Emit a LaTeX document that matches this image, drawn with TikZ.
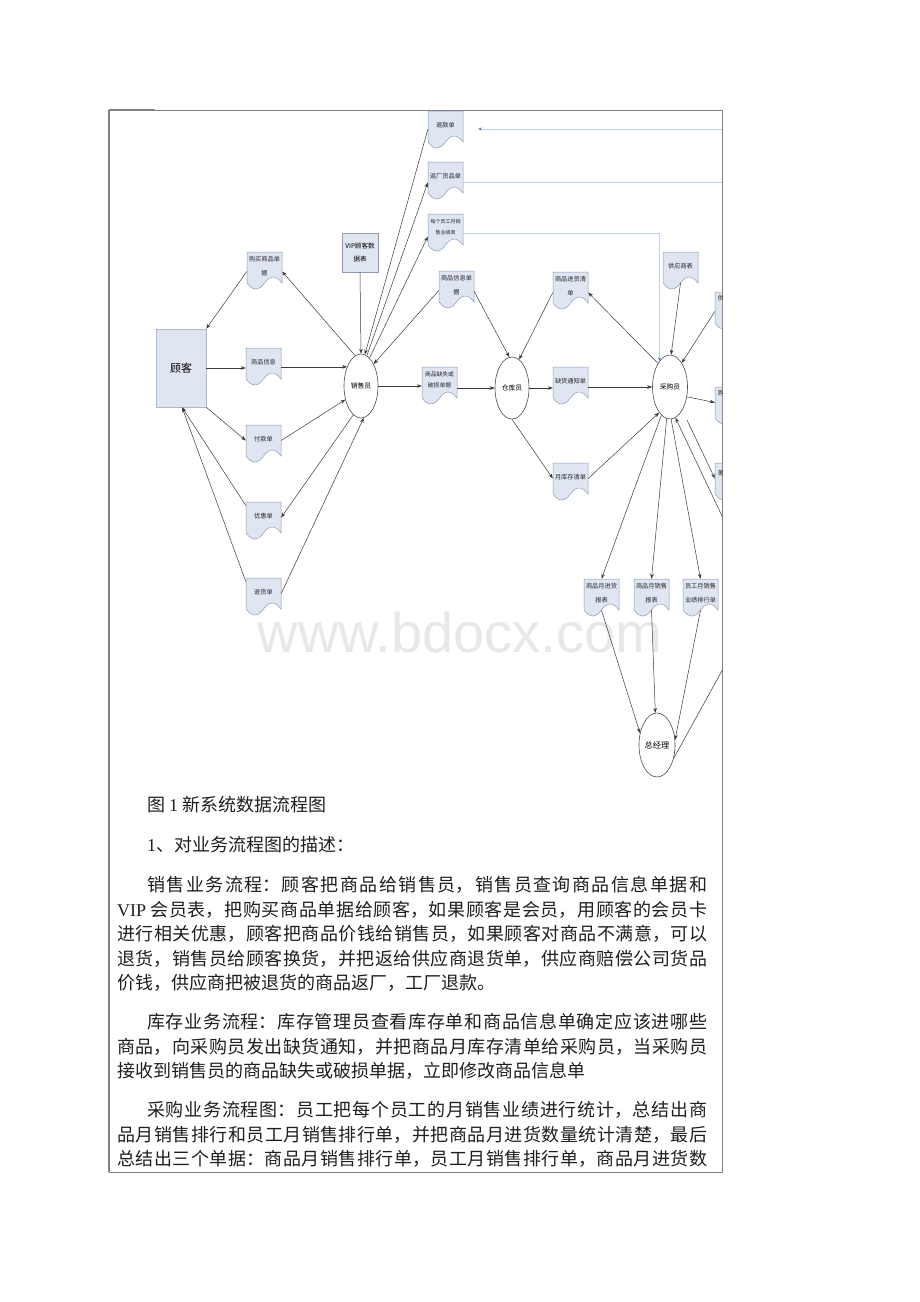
\documentclass[tikz,border=0pt]{standalone}
\usepackage{fontspec}
\setmainfont{Liberation Serif}
\newfontfamily\cjk{Noto Sans CJK SC}
\newfontfamily\wmfont{Liberation Sans}
\usetikzlibrary{shapes.geometric,arrows.meta,calc}
\XeTeXlinebreaklocale "zh"
\XeTeXlinebreakskip=0pt plus 3pt
\definecolor{docfill}{HTML}{DFE6F2}
\definecolor{docline}{HTML}{8C9BB0}
\definecolor{ln}{HTML}{3A3A3A}
\definecolor{bl}{HTML}{C3D1E8}
\definecolor{bla}{HTML}{4A78C8}
\definecolor{framec}{HTML}{808080}
\tikzset{
 docst/.style={fill=docfill, draw=docline, line width=0.5pt},
 dbox/.style={rectangle, minimum width=35pt, minimum height=31pt, inner sep=0pt},
 dtxt/.style={font=\cjk\fontsize{6.2}{13.5}\selectfont, align=center, inner sep=0pt, text=black!85},
 ell/.style={ellipse, draw=black!70, fill=white, line width=0.6pt, inner sep=0pt, font=\cjk\fontsize{6.8}{8}\selectfont},
 arr/.style={draw=ln, line width=0.5pt, -{Stealth[length=5pt,width=3.6pt]}},
 con/.style={draw=ln, line width=0.5pt},
 bline/.style={draw=bl, line width=0.6pt},
 barr/.style={draw=bl, line width=0.6pt, -{Stealth[length=3.5pt,width=3pt,color=bla]}},
 body/.style={anchor=base west, inner sep=0pt, font=\cjk\fontsize{18}{22}\selectfont, text=black!88},
}
\newcommand\docshape[6]{% name, x, y, text, text y, extra style
 \begin{scope}[shift={(#2,#3)}]
  \path[docst] (0,0) -- (35,0) -- (35,31) .. controls (29.17,23) and (23.33,23) .. (17.5,31) .. controls (11.67,39) and (5.83,39) .. (0,31) -- cycle;
  \node[dbox] (#1) at (17.5,15.5) {};
  \node[dtxt,#6] (#1-t) at (17.5,#5) {#4};
 \end{scope}}
\newcommand\fullline[5]{\node[body] (#1) at (#2,#3) {\parbox[b]{#4pt}{\parfillskip=0pt\relax #5}};}
\begin{document}
\begin{tikzpicture}[x=1pt,y=-1pt]
\useasboundingbox (0,0) rectangle (920,1302);
\fill[white] (0,0) rectangle (920,1302);

% watermark
\node[font=\wmfont\fontsize{56}{60}\selectfont, text=black!9, anchor=base, inner sep=0pt] (wm) at (460,652) {www.bdocx.com};

% frame
\draw[framec, line width=1pt] (109,1172) -- (109,110) -- (722,110) -- (722,1172) -- cycle;
\draw[framec, line width=1.6pt] (109,110) -- (155,110);
\draw[framec, line width=1.6pt] (109,110) -- (109,1172);

% documents
\docshape{tk}{428}{111}{退款单}{14.5}{}
\docshape{fc}{428}{162}{返厂货品单}{14.5}{}
\docshape{mg}{428}{214}{每个员工月销\\售业绩单}{13}{font=\cjk\fontsize{5}{11.5}\selectfont}
\docshape{gm}{247}{252}{购买商品单\\据}{14}{}
\docshape{xx}{439}{271}{商品信息单\\据}{14}{}
\docshape{jh}{553}{272}{商品进货清\\单}{14}{}
\docshape{gy}{663}{252}{供应商表}{14.5}{}
\docshape{sp}{246}{348}{商品信息}{14.5}{}
\docshape{fk}{246}{425}{付款单}{14.5}{}
\docshape{yh}{246}{502}{优惠单}{14.5}{}
\docshape{th}{246}{578}{退货单}{14.5}{}
\docshape{qs}{422}{367}{商品缺失或\\破损单据}{13}{font=\cjk\fontsize{5.8}{11.5}\selectfont}
\docshape{qh}{553}{367}{缺货通知单}{14.5}{}
\docshape{yk}{553}{463}{月库存清单}{14.5}{}
\docshape{b1}{584}{579}{商品月进货\\报表}{14}{}
\docshape{b2}{634}{579}{商品月销售\\报表}{14}{}
\docshape{b3}{683}{579}{员工月销售\\业绩排行单}{14}{}

% partial documents at the right edge
\begin{scope}
 \clip (100,100) rectangle (722,800);
 \docshape{r1}{715}{292}{}{14}{}
 \docshape{r2}{715}{387}{}{14}{}
 \docshape{r3}{715}{463}{}{14}{}
 \node[dtxt] (r1c) at (721,298) {供};
 \node[dtxt] (r2c) at (721,393) {购};
 \node[dtxt] (r3c) at (721,473) {差};
 \coordinate (offA) at (740,554);
 \coordinate (offB) at (740,638);
\end{scope}
\coordinate (offC) at (722,129);
\coordinate (offD) at (722,182);

% rectangles
\node[rectangle, fill=docfill, draw=docline, line width=0.5pt, minimum width=36pt, minimum height=39pt, inner sep=0pt, align=center, font=\cjk\fontsize{6.5}{13}\selectfont] (vip) at (360,252.5) {VIP顾客数\\据表};
\node[rectangle, fill=docfill, draw=docline!70, line width=0.5pt, minimum width=50pt, minimum height=78pt, inner sep=0pt, font=\cjk\fontsize{11}{12}\selectfont] (gk) at (181,368) {顾客};

% ellipses
\node[ell, minimum width=34pt, minimum height=64pt] (xs) at (361,386) {销售员};
\node[ell, minimum width=34pt, minimum height=62pt] (ck) at (512,388) {仓库员};
\node[ell, minimum width=35pt, minimum height=64pt] (cg) at (670,387) {采购员};
\node[ell, minimum width=36pt, minimum height=64pt, font=\cjk\fontsize{8.2}{9}\selectfont] (zj) at (657,745) {总经理};

% connectors
\draw[arr] ([yshift=-4pt]gm.west) -- (gk.north east);
\draw[arr] (xs.101) -- ([yshift=-4pt]gm.east);
\draw[arr] (gk.east) -- (gk.east -| sp.west);
\draw[arr] (sp.east |- xs.126) -- (xs.126);
\draw[arr] (gk.south east) -- (fk.west);
\draw[arr] (fk.east) -- (xs.221);
\draw[arr] (xs.255) -- (yh.east);
\draw[arr] ([yshift=12pt]yh.west) -- ([xshift=1pt]gk.south);
\draw[arr] ([yshift=12pt]th.west) -- ([xshift=1pt]gk.south);
\draw[arr] (th.east) -- (xs.275);
\draw[arr] (vip.south) -- (xs.north);
\draw[arr] ([yshift=-3pt]tk.west) -- (xs.83);
\draw[arr] (xs.79) -- ([yshift=-5pt]fc.west);
\draw[arr] (xs.73) -- ([yshift=-7pt]mg.west);
\draw[arr] ([yshift=-4pt]xx.west) -- (xs.60);
\draw[arr] (xs.east) -- (xs.east -| qs.west);
\draw[arr] (ck.west -| qs.east) -- (ck.west);
\draw[arr] ([yshift=-5pt]xx.east) -- (ck.95);
\draw[arr] ([yshift=-5pt]jh.west) -- (ck.76);
\draw[arr] (ck.east) -- (ck.east -| qh.west);
\draw[arr] (cg.west -| qh.east) -- (cg.west);
\draw[arr] (ck.south) -- (yk.west);
\draw[arr] (yk.east) -- (cg.247);
\draw[arr] (cg.117) -- ([yshift=-5pt]jh.east);
\draw[arr] (gy.south) -- (cg.88);
\draw[arr] (cg.253) -- (b1.north);
\draw[arr] (cg.264) -- (b2.north);
\draw[arr] (cg.272) -- (b3.north);
\draw[arr] (b1.south) -- (zj.145);
\draw[arr] (b2.south) -- (zj.93);
\draw[arr] (b3.south) -- (zj.16);
\begin{scope}
 \clip (100,100) rectangle (722,800);
 \draw[arr] ([yshift=-4pt]r1.west) -- (cg.64);
 \draw[arr] (cg.-30) -- (r2.west);
 \draw[arr, shorten <=11pt] (cg.-62) -- (r3.west);
 \draw[arr] (offA) -- (cg.-80);
 \draw[con] (zj.-39) -- (offB);
\end{scope}
\draw[barr] (offC) -- ([xshift=15pt,yshift=-2.5pt]tk.east);
\draw[bline] (offD -| fc.east) -- (offD);
\draw[barr] ([yshift=-3.5pt]mg.east) -| (cg.112);

% body text
\node[body] (t0) at (147,811.5) {图 {\rmfamily 1} 新系统数据流程图};
\node[body] (t1) at (147,851.5) {{\rmfamily 1}、对业务流程图的描述：};
\fullline{p11}{147}{891.5}{560}{销售业务流程：顾客把商品给销售员，销售员查询商品信息单据和}
\fullline{p12}{117}{916}{590}{{\rmfamily VIP} 会员表，把购买商品单据给顾客，如果顾客是会员，用顾客的会员卡}
\fullline{p13}{117}{940.5}{590}{进行相关优惠，顾客把商品价钱给销售员，如果顾客对商品不满意，可以}
\fullline{p14}{117}{965}{590}{退货，销售员给顾客换货，并把返给供应商退货单，供应商赔偿公司货品}
\node[body] (p15) at (117,989.5) {价钱，供应商把被退货的商品返厂，工厂退款。};
\fullline{p21}{147}{1028.5}{560}{库存业务流程：库存管理员查看库存单和商品信息单确定应该进哪些}
\fullline{p22}{117}{1053}{590}{商品，向采购员发出缺货通知，并把商品月库存清单给采购员，当采购员}
\node[body] (p23) at (117,1077.5) {接收到销售员的商品缺失或破损单据，立即修改商品信息单};
\fullline{p31}{147}{1116.5}{560}{采购业务流程图：员工把每个员工的月销售业绩进行统计，总结出商}
\fullline{p32}{117}{1141}{590}{品月销售排行和员工月销售排行单，并把商品月进货数量统计清楚，最后}
\fullline{p33}{117}{1165.5}{590}{总结出三个单据：商品月销售排行单，员工月销售排行单，商品月进货数}
\end{tikzpicture}
\end{document}
